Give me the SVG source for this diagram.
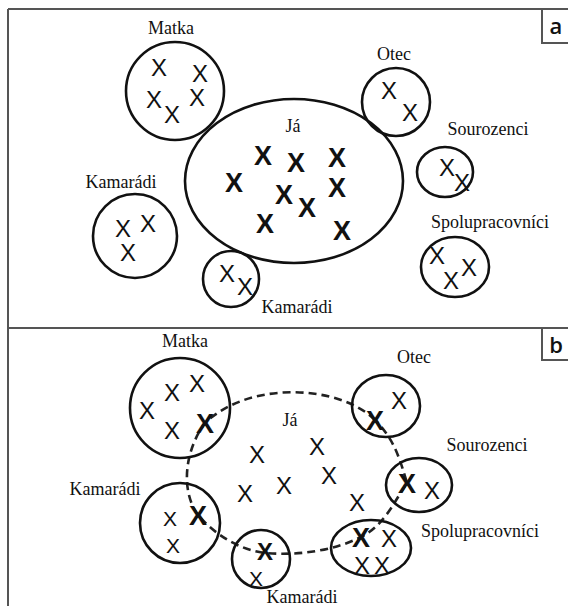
<svg xmlns="http://www.w3.org/2000/svg" width="568" height="606" viewBox="0 0 568 606">
<style>
.frame{fill:none;stroke:#555;stroke-width:2}
.c{fill:none;stroke:#111;stroke-width:2.6}
.d{fill:none;stroke:#222;stroke-width:2.6;stroke-dasharray:8 5}
.t{font-family:"Liberation Serif","Times New Roman",serif;font-size:18px;fill:#111;text-anchor:middle}
.x{font-family:"Liberation Sans",Arial,sans-serif;font-size:24px;fill:#111;text-anchor:middle}
.xs{font-family:"Liberation Sans",Arial,sans-serif;font-size:21px;fill:#111;text-anchor:middle}
.xb{font-family:"Liberation Sans",Arial,sans-serif;font-size:27px;font-weight:bold;fill:#111;text-anchor:middle}
.xbs{font-family:"Liberation Sans",Arial,sans-serif;font-size:24px;font-weight:bold;fill:#111;text-anchor:middle}
.lab{font-family:"Open Sans","Liberation Sans",sans-serif;font-size:22px;font-weight:600;fill:#111;text-anchor:middle}
</style>
<rect width="568" height="606" fill="#fff"/>
<g id="frame">
<path class="frame" d="M8 9 H568 M8 9 V606 M8 328 H568"/>
<path class="frame" d="M542 9 V43 H568 M542 328 V360 H568"/>
<text class="lab" x="556" y="34">a</text>
<text class="lab" x="556" y="353">b</text>
</g>
<!-- Panel a -->
<g id="a-ja">
<ellipse class="c" cx="294" cy="181" rx="109" ry="82"/>
<text class="t" x="293" y="132">Já</text>
<text class="xb" x="263" y="165">X</text><text class="xb" x="296" y="172">X</text><text class="xb" x="337" y="167">X</text>
<text class="xb" x="234" y="192">X</text><text class="xb" x="284" y="204">X</text><text class="xb" x="307" y="217">X</text>
<text class="xb" x="337" y="197">X</text><text class="xb" x="265" y="233">X</text><text class="xb" x="342" y="240">X</text>
</g>
<g id="a-matka">
<circle class="c" cx="175" cy="91" r="49"/>
<text class="t" x="171" y="34">Matka</text>
<text class="x" x="159" y="76">X</text><text class="x" x="200" y="82">X</text><text class="x" x="154" y="108">X</text>
<text class="x" x="172" y="123">X</text><text class="x" x="197" y="106">X</text>
</g>
<g id="a-otec">
<circle class="c" cx="396" cy="102" r="34"/>
<text class="t" x="394" y="60">Otec</text>
<text class="x" x="389" y="99">X</text><text class="x" x="410" y="121">X</text>
</g>
<g id="a-sourozenci">
<ellipse class="c" cx="445" cy="172" rx="28" ry="25"/>
<text class="t" x="488" y="135">Sourozenci</text>
<text class="x" x="447" y="176">X</text><text class="x" x="462" y="191">X</text>
</g>
<g id="a-spolupracovnici">
<ellipse class="c" cx="455" cy="267" rx="34" ry="30"/>
<text class="t" x="490" y="228">Spolupracovníci</text>
<text class="x" x="437" y="264">X</text><text class="x" x="469" y="276">X</text><text class="x" x="451" y="289">X</text>
</g>
<g id="a-kamaradi1">
<circle class="c" cx="135" cy="236" r="42"/>
<text class="t" x="121" y="188">Kamarádi</text>
<text class="x" x="123" y="237">X</text><text class="x" x="148" y="232">X</text><text class="x" x="128" y="261">X</text>
</g>
<g id="a-kamaradi2">
<circle class="c" cx="231" cy="279" r="28"/>
<text class="t" x="297" y="313">Kamarádi</text>
<text class="x" x="227" y="282">X</text><text class="x" x="245" y="295">X</text>
</g>
<!-- Panel b -->
<g id="connectors">
<path class="d" d="M375 420 C340 385 250 380 205 423 C185 450 180 490 198 515 C215 535 240 550 265 553 C300 556 335 550 361 537 C385 525 395 500 407 483 C400 460 395 440 375 420 Z"/>
</g>
<g id="b-ja">
<text class="t" x="290" y="426">Já</text>
<text class="x" x="257" y="463">X</text><text class="x" x="317" y="455">X</text><text class="x" x="329" y="484">X</text>
<text class="x" x="245" y="502">X</text><text class="x" x="284" y="494">X</text><text class="x" x="357" y="511">X</text>
</g>
<g id="b-matka">
<circle class="c" cx="180" cy="408" r="50"/>
<text class="t" x="185" y="347">Matka</text>
<text class="x" x="172" y="401">X</text><text class="x" x="197" y="392">X</text><text class="x" x="147" y="419">X</text>
<text class="x" x="172" y="439">X</text><text class="xb" x="205" y="433">X</text>
</g>
<g id="b-kamaradi1">
<circle class="c" cx="180" cy="523" r="40"/>
<text class="t" x="105" y="495">Kamarádi</text>
<text class="xs" x="170" y="526">X</text><text class="xb" x="198" y="525">X</text><text class="xs" x="173" y="553">X</text>
</g>
<g id="b-kamaradi2">
<circle class="c" cx="261" cy="559" r="29"/>
<text class="t" x="302" y="603">Kamarádi</text>
<text class="xbs" x="265" y="560">X</text><text class="xs" x="256" y="586">X</text>
</g>
<g id="b-otec">
<ellipse class="c" cx="386" cy="406" rx="34" ry="31"/>
<text class="t" x="414" y="363">Otec</text>
<text class="xb" x="375" y="430">X</text><text class="x" x="399" y="409">X</text>
</g>
<g id="b-sourozenci">
<ellipse class="c" cx="419" cy="485" rx="33" ry="27"/>
<text class="t" x="487" y="451">Sourozenci</text>
<text class="xb" x="407" y="493">X</text><text class="x" x="432" y="499">X</text>
</g>
<g id="b-spolupracovnici">
<ellipse class="c" cx="371" cy="548" rx="40" ry="28"/>
<text class="t" x="480" y="537">Spolupracovníci</text>
<text class="xb" x="361" y="547">X</text><text class="x" x="389" y="547">X</text>
<text class="x" x="362" y="574">X</text><text class="x" x="382" y="574">X</text>
</g>
</svg>
